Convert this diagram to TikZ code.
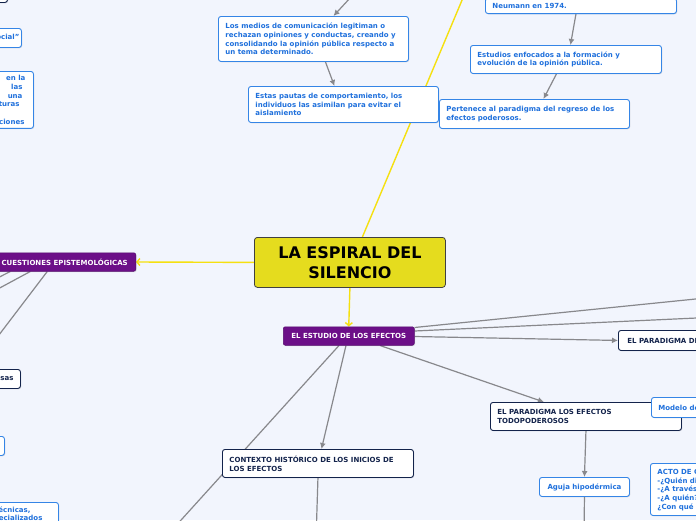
\documentclass[tikz,border=0pt]{standalone}
\usepackage{fontspec}
\setmainfont{DejaVu Sans}
\usetikzlibrary{arrows.meta,shadows,backgrounds}
\definecolor{mapPaper}{HTML}{F2F5FD}
\definecolor{mapBlue}{HTML}{1F70DC}
\definecolor{mapBlueLine}{HTML}{3585E6}
\definecolor{mapNavy}{HTML}{13234B}
\definecolor{mapPurple}{HTML}{6C0F88}
\definecolor{mapYellow}{HTML}{E5DC1E}
\definecolor{mapYellowLine}{HTML}{F5E010}
\definecolor{mapGrey}{HTML}{88888C}
\tikzset{
    note/.style={draw=mapBlueLine, line width=0.9pt, rounded corners=2.5pt, fill=white, text=mapBlue, align=flush left, anchor=north west, inner xsep=7pt, inner ysep=4pt, font=\fontsize{7}{8.7}\selectfont\bfseries, drop shadow={shadow xshift=0.8pt, shadow yshift=-0.8pt, opacity=0.2}},
    cutnote/.style={note, align=flush right},
    topic/.style={note, draw=mapNavy, text=mapNavy},
    cuttopic/.style={topic, align=flush right},
    branch/.style={fill=mapPurple, draw=mapPurple!80!black, line width=0.5pt, text=white, rounded corners=2pt, inner xsep=8pt, minimum height=18.5pt, font=\fontsize{7}{8.7}\selectfont\bfseries, drop shadow={shadow xshift=0.8pt, shadow yshift=-0.8pt, opacity=0.25}},
    root/.style={fill=mapYellow, draw=black!75, line width=0.8pt, rounded corners=3pt, align=center, anchor=north west, text=black, font=\fontsize{16}{20}\selectfont\bfseries},
    link/.style={draw=mapGrey, line width=1.2pt},
    linkarrow/.style={link, -{Latex[length=6pt,width=6pt]}},
    mainlink/.style={draw=mapYellowLine, line width=1.4pt},
    mainarrow/.style={mainlink, -{Straight Barb[length=3pt,width=7pt]}}
}
\newcommand{\padr}[1]{\hspace*{#1}\mbox{}}
\begin{document}
\begin{tikzpicture}[x=1pt, y=-1pt]
\useasboundingbox (0,0) rectangle (696,520);
\clip (0,0) rectangle (696,520);

% central topic and main branches
\node[root, minimum width=191pt, minimum height=50pt] (silencio) at (254,237) {LA ESPIRAL DEL\\SILENCIO};
\node[branch, anchor=east] (cuestiones) at (136,262) {CUESTIONES EPISTEMOLÓGICAS};
\node[branch, anchor=north west, minimum width=131pt] (estudio) at (283,326.5) {EL ESTUDIO DE LOS EFECTOS};

% upper side
\node[note, text width=176pt, minimum height=45pt] (medios) at (218,16) {Los medios de comunicación legitiman o rechazan opiniones y conductas, creando y consolidando la opinión pública respecto a un tema determinado.};
\node[note, text width=176pt, minimum height=36pt] (pautas) at (248,86) {Estas pautas de comportamiento, los individuos las asimilan para evitar el aislamiento};
\node[note, anchor=south west, text width=177pt, inner ysep=5pt] (neumann) at (485,14) {Neumann en 1974.};
\node[note, text width=177pt, minimum height=28pt] (estudios) at (470,45) {Estudios enfocados a la formación y evolución de la opinión pública.};
\node[note, text width=176pt, minimum height=29pt] (pertenece) at (439,99) {Pertenece al paradigma del regreso de los efectos poderosos.};

% left edge, cut by the frame
\node[cuttopic, text width=93pt, minimum height=22pt] (arriba) at (-100,-20) {};
\node[cutnote, text width=127pt, inner xsep=2pt, minimum height=19pt] (piel) at (-110,28) {"piel social"};
\node[cutnote, text width=169pt] (miedo) at (-150,71) {en la\padr{1pt}\\las\padr{4pt}\\una\padr{4pt}\\turas\padr{7pt}\\\mbox{}\\ciones\padr{2pt}};
\node[cuttopic, text width=86pt, inner xsep=7pt, minimum height=19pt] (masas) at (-80,369) {sas};
\node[cutnote, text width=90pt, minimum height=19pt] (vacio) at (-100,436) {};
\node[cutnote, text width=164pt] (tecnicas) at (-120,502) {técnicas,\padr{21pt}\\especializados\padr{9pt}};

% lower side
\node[topic, text width=182pt, inner xsep=9pt, minimum height=20pt] (limitados) at (618,330) {EL PARADIGMA DE LOS EFECTOS LIMITADOS};
\node[topic, text width=177pt, minimum height=28pt] (todopoderosos) at (490,402) {EL PARADIGMA LOS EFECTOS TODOPODEROSOS};
\node[note, text width=106pt, minimum height=20pt] (lasswell) at (651,397) {Modelo de Lasswell};
\node[topic, text width=177pt, minimum height=28pt] (contexto) at (222,449) {CONTEXTO HISTÓRICO DE LOS INICIOS DE LOS EFECTOS};
\node[note, align=center, text width=76pt, minimum height=19pt] (aguja) at (539,477) {Aguja hipodérmica};
\node[note, text width=150pt, minimum height=52pt] (acto) at (650,463) {ACTO DE COMUNICACIÓN\\-¿Quién dice qué?\\-¿A través de qué canal?\\-¿A quién?\\¿Con qué efecto?};

% free ends outside the frame
\coordinate (arribaY) at (470.5,-20);
\coordinate (arribaG) at (363,-16);
\coordinate (izqA) at (-30,292);
\coordinate (izqB) at (-30,304);
\coordinate (izqC) at (-30,373);
\coordinate (derA) at (740,294.5);
\coordinate (derB) at (740,316);
\coordinate (abajoA) at (163,540);
\coordinate (abajoB) at (316,540);
\coordinate (abajoC) at (584,540);

\begin{scope}[on background layer]
\fill[mapPaper] (0,0) rectangle (696,520);
\draw[mainlink] ([xshift=12.5pt]silencio.north) -- (arribaY);
\draw[mainarrow] (silencio.west) -- (cuestiones.east);
\draw[mainarrow] (silencio.south) -- (estudio.north);

\draw[linkarrow] (arribaG) -- ([xshift=20pt]medios.north);
\draw[linkarrow] ([xshift=12pt]medios.south) -- ([xshift=-9pt]pautas.north);
\draw[linkarrow] ([xshift=-5pt]neumann.south) -- ([xshift=4.5pt]estudios.north);
\draw[linkarrow] ([xshift=-9.5pt]estudios.south) -- ([xshift=9pt]pertenece.north);

\draw[link] ([xshift=17pt]cuestiones.south west) -- (izqA);
\draw[link] ([xshift=37pt]cuestiones.south west) -- (izqB);
\draw[link] ([xshift=54pt]cuestiones.south west) -- (izqC);

\draw[link] ([yshift=8.5pt]estudio.east) -- (derA);
\draw[link] ([yshift=5pt]estudio.east) -- (derB);
\draw[linkarrow] ([yshift=-0.5pt]estudio.east) -- (limitados.west);
\draw[linkarrow] ([xshift=97pt]estudio.south west) -- ([xshift=-42pt]todopoderosos.north);
\draw[linkarrow] ([xshift=63pt]estudio.south west) -- ([xshift=3.5pt]contexto.north);
\draw[link] ([xshift=56pt]estudio.south west) -- (abajoA);

\draw[link] (contexto.south) -- (abajoB);
\draw[linkarrow] (todopoderosos.south) -- (aguja.north);
\draw[link] (aguja.south) -- (abajoC);
\end{scope}
\end{tikzpicture}
\end{document}
